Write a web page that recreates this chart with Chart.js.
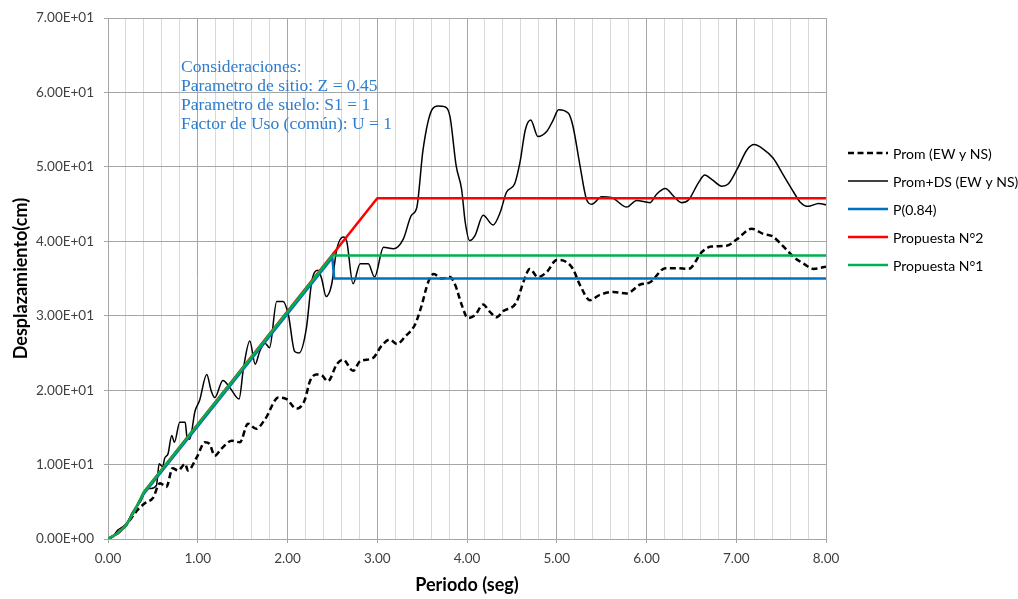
<!DOCTYPE html>
<html>
<head>
<meta charset="utf-8">
<script src="https://cdn.jsdelivr.net/npm/chart.js@4.4.0/dist/chart.umd.min.js"></script>
<style>
  html, body { margin: 0; padding: 0; background: #fff; }
  #wrap { width: 1018px; height: 599px; }
</style>
</head>
<body>
<div id="wrap"><canvas id="chart" width="1018" height="599"></canvas></div>
<script>
// Prom (EW y NS) - dashed black
const promX = [0, 0.10, 0.19, 0.26, 0.33, 0.41, 0.50, 0.58, 0.65, 0.72, 0.78, 0.86, 0.89, 0.99,
  1.08, 1.13, 1.19, 1.26, 1.38, 1.47, 1.56, 1.65, 1.75, 1.90, 1.99, 2.10, 2.19, 2.25, 2.32, 2.38,
  2.45, 2.55, 2.62, 2.73, 2.81, 2.95, 3.05, 3.14, 3.22, 3.31, 3.42, 3.49, 3.57, 3.63, 3.72, 3.81,
  3.87, 3.94, 4.01, 4.09, 4.18, 4.25, 4.33, 4.40, 4.55, 4.63, 4.70, 4.79, 4.89, 5.00, 5.11, 5.18,
  5.26, 5.37, 5.48, 5.63, 5.78, 5.93, 6.04, 6.21, 6.34, 6.47, 6.62, 6.72, 6.89, 7.01, 7.17, 7.30,
  7.40, 7.51, 7.64, 7.75, 7.86, 8.00];
const promY = [0, 0.7, 1.7, 2.8, 3.9, 4.8, 5.5, 7.5, 7.0, 9.5, 9.2, 10.1, 9.2, 11.0,
  13.0, 12.8, 11.2, 12.1, 13.2, 13.0, 15.5, 14.8, 16.1, 19.0, 18.8, 17.5, 18.6, 21.2, 22.1, 22.0,
  21.2, 23.5, 24.1, 22.6, 23.9, 24.3, 26.0, 26.8, 26.2, 27.2, 28.8, 31.2, 34.6, 35.6, 35.0, 35.2,
  34.1, 31.5, 29.7, 30.1, 31.5, 30.6, 29.8, 30.6, 31.8, 34.6, 36.3, 35.2, 35.9, 37.5, 37.2, 36.3,
  34.1, 32.1, 32.8, 33.2, 33.0, 34.2, 34.5, 36.4, 36.4, 36.3, 38.6, 39.3, 39.4, 40.3, 41.7, 41.0,
  40.7, 39.5, 37.9, 37.0, 36.3, 36.6];

// Prom+DS (EW y NS) - solid black
const promDsX = [0, 0.05, 0.11, 0.16, 0.22, 0.26, 0.30, 0.37, 0.43, 0.48, 0.54, 0.57, 0.61, 0.63,
  0.67, 0.71, 0.74, 0.80, 0.86, 0.88, 0.91, 0.97, 1.02, 1.10, 1.15, 1.19, 1.28, 1.36, 1.46, 1.51,
  1.58, 1.64, 1.69, 1.75, 1.80, 1.88, 1.95, 2.01, 2.08, 2.13, 2.21, 2.27, 2.34, 2.38, 2.43, 2.49,
  2.55, 2.62, 2.66, 2.73, 2.81, 2.90, 2.97, 3.07, 3.18, 3.29, 3.38, 3.44, 3.51, 3.61, 3.68, 3.75,
  3.81, 3.88, 3.94, 3.98, 4.03, 4.09, 4.18, 4.29, 4.37, 4.44, 4.53, 4.59, 4.65, 4.71, 4.79, 4.89,
  4.96, 5.02, 5.13, 5.18, 5.26, 5.33, 5.39, 5.50, 5.61, 5.78, 5.89, 6.04, 6.11, 6.21, 6.30, 6.39,
  6.47, 6.58, 6.65, 6.73, 6.84, 6.91, 7.01, 7.12, 7.20, 7.30, 7.41, 7.53, 7.64, 7.71, 7.80, 7.92, 8.00];
const promDsY = [0, 0.3, 1.2, 1.6, 2.3, 3.3, 4.1, 5.2, 6.8, 6.8, 7.2, 10.1, 9.7, 10.8,
  11.5, 13.9, 13.0, 15.7, 15.7, 13.7, 13.4, 17.2, 18.6, 22.1, 19.9, 19.0, 21.3, 20.3, 18.8, 23.0,
  26.6, 23.5, 25.2, 26.3, 25.7, 31.9, 31.9, 30.1, 25.2, 25.0, 28.3, 34.6, 36.1, 35.0, 32.6, 34.1,
  39.0, 40.6, 40.0, 34.3, 37.0, 37.0, 35.2, 39.2, 39.0, 40.3, 43.5, 44.5, 52.3, 57.7, 58.2, 58.1,
  56.8, 50.1, 47.0, 42.6, 40.1, 40.8, 43.5, 42.2, 43.9, 46.6, 47.7, 50.6, 55.0, 56.3, 54.1, 54.8,
  56.3, 57.7, 57.2, 55.5, 50.1, 45.7, 45.0, 46.0, 45.9, 44.6, 45.5, 45.2, 46.3, 47.1, 46.1, 45.2,
  45.6, 47.9, 48.9, 48.3, 47.4, 47.7, 49.7, 52.3, 53.0, 52.4, 51.2, 48.8, 46.6, 45.3, 44.7, 45.1, 44.9];

// P(0.84)
const p84X = [0, 0.1, 0.2, 0.3, 0.4, 2.5, 2.52, 8.0];
const p84Y = [0, 0.7, 1.8, 3.9, 6.1, 37.8, 35.0, 35.0];
// Propuesta N°2
const prop2X = [0, 0.1, 0.2, 0.3, 0.4, 2.5, 3.0, 8.0];
const prop2Y = [0, 0.7, 1.8, 3.9, 6.3, 38.2, 45.8, 45.8];
// Propuesta N°1
const prop1X = [0, 0.1, 0.2, 0.3, 0.4, 2.5, 8.0];
const prop1Y = [0, 0.7, 1.8, 3.9, 6.3, 38.1, 38.1];

const xTickStep = 0.2;
const yTicks = [0, 10, 20, 30, 40, 50, 60, 70];

const noteLines = [
  'Consideraciones:',
  'Parametro de sitio: Z = 0.45',
  'Parametro de suelo: S1 = 1',
  'Factor de Uso (común): U = 1'
];

const FONT = 'Lato, "Liberation Sans", sans-serif';

function toPoints(xs, ys) {
  return xs.map((x, i) => ({ x: x, y: ys[i] }));
}

function sci(v) {
  if (v === 0) return '0.00E+00';
  const e = Math.floor(Math.log10(Math.abs(v)));
  const m = v / Math.pow(10, e);
  return m.toFixed(2) + 'E' + (e < 0 ? '-' : '+') + String(Math.abs(e)).padStart(2, '0');
}

function isMajor(v) {
  return Math.abs(v - Math.round(v)) < 1e-6;
}

const extras = {
  id: 'extras',
  afterDraw(chart) {
    const ctx = chart.ctx;
    const area = chart.chartArea;
    ctx.save();

    // annotation text
    ctx.font = '17.5px "Liberation Serif", serif';
    ctx.fillStyle = '#2E7DCC';
    ctx.textBaseline = 'middle';
    ctx.textAlign = 'left';
    noteLines.forEach((t, i) => ctx.fillText(t, area.left + 73, area.top + 49 + i * 19));

    // legend
    ctx.font = '14px ' + FONT;
    ctx.fillStyle = '#000';
    const lx = area.right + 22;
    chart.data.datasets.forEach((ds, i) => {
      const y = 153 + i * 28;
      ctx.beginPath();
      ctx.strokeStyle = ds.borderColor;
      ctx.lineWidth = ds.borderWidth;
      ctx.setLineDash(ds.borderDash || []);
      ctx.moveTo(lx, y);
      ctx.lineTo(lx + 40, y);
      ctx.stroke();
      ctx.setLineDash([]);
      ctx.fillText(ds.label, lx + 45, y + 1);
    });
    ctx.restore();
  }
};

const ctx = document.getElementById('chart').getContext('2d');
new Chart(ctx, {
  type: 'line',
  data: {
    datasets: [
      {
        label: 'Prom (EW y NS)',
        data: toPoints(promX, promY),
        borderColor: '#000000',
        borderWidth: 2.5,
        borderDash: [6, 3.5],
        cubicInterpolationMode: 'monotone',
        order: 5
      },
      {
        label: 'Prom+DS (EW y NS)',
        data: toPoints(promDsX, promDsY),
        borderColor: '#000000',
        borderWidth: 1.5,
        cubicInterpolationMode: 'monotone',
        order: 4
      },
      {
        label: 'P(0.84)',
        data: toPoints(p84X, p84Y),
        borderColor: '#0070C0',
        borderWidth: 2.5,
        order: 3
      },
      {
        label: 'Propuesta N°2',
        data: toPoints(prop2X, prop2Y),
        borderColor: '#FF0000',
        borderWidth: 2.5,
        order: 2
      },
      {
        label: 'Propuesta N°1',
        data: toPoints(prop1X, prop1Y),
        borderColor: '#00B050',
        borderWidth: 2.5,
        order: 1
      }
    ]
  },
  options: {
    responsive: false,
    animation: false,
    devicePixelRatio: 1,
    layout: { padding: { top: 14, right: 192, left: 0, bottom: 0 } },
    elements: {
      point: { radius: 0, hoverRadius: 0 },
      line: { tension: 0, borderCapStyle: 'butt', borderJoinStyle: 'round' }
    },
    plugins: {
      legend: { display: false },
      tooltip: { enabled: false }
    },
    scales: {
      x: {
        type: 'linear',
        min: 0,
        max: 8,
        afterFit(scale) { scale.height = 60; },
        border: { color: '#A6A6A6', width: 1 },
        grid: {
          color: c => (c.tick && isMajor(c.tick.value)) ? '#A6A6A6' : '#D9D9D9',
          tickColor: c => (c.tick && isMajor(c.tick.value)) ? '#A6A6A6' : 'rgba(0,0,0,0)',
          tickLength: 4,
          lineWidth: 1
        },
        ticks: {
          stepSize: xTickStep,
          autoSkip: false,
          maxRotation: 0,
          padding: 8,
          color: '#404040',
          font: { family: FONT, size: 13.5 },
          callback: v => isMajor(v) ? v.toFixed(2) : ''
        },
        title: {
          display: true,
          text: 'Periodo (seg)',
          color: '#000',
          font: { family: FONT, size: 18, weight: 'bold' },
          padding: { top: 0, bottom: 3 }
        }
      },
      y: {
        min: 0,
        max: 70,
        afterFit(scale) { scale.width = 108; },
        afterBuildTicks(scale) { scale.ticks = yTicks.map(v => ({ value: v })); },
        border: { color: '#A6A6A6', width: 1 },
        grid: { color: '#A6A6A6', tickColor: '#A6A6A6', tickLength: 4, lineWidth: 1 },
        ticks: {
          padding: 10,
          color: '#404040',
          font: { family: FONT, size: 13.5 },
          callback: v => sci(v)
        },
        title: {
          display: true,
          text: 'Desplazamiento(cm)',
          color: '#000',
          font: { family: FONT, size: 18, weight: 'bold' },
          padding: { top: 10, bottom: 0 }
        }
      }
    }
  },
  plugins: [extras]
});
</script>
</body>
</html>
